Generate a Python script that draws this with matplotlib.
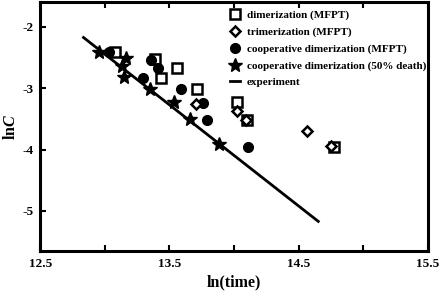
import matplotlib
matplotlib.use("Agg")
import matplotlib.pyplot as plt
from matplotlib.ticker import MultipleLocator, FuncFormatter

plt.rcParams['font.family'] = ['Liberation Serif', 'DejaVu Serif']
plt.rcParams['font.weight'] = 'bold'
plt.rcParams['mathtext.fontset'] = 'custom'
plt.rcParams['mathtext.it'] = 'Liberation Serif:italic:bold'
plt.rcParams['mathtext.rm'] = 'Liberation Serif:bold'

# dimerization (MFPT)
dim_x = [13.08, 13.389, 13.562, 13.438, 13.714, 14.026, 14.098, 14.776]
dim_y = [-2.41, -2.53, -2.667, -2.84, -3.01, -3.23, -3.52, -3.95]
# trimerization (MFPT)
tri_x = [13.706, 14.026, 14.09, 14.562, 14.75]
tri_y = [-3.257, -3.37, -3.52, -3.70, -3.935]
# cooperative dimerization (MFPT)
coop_x = [13.034, 13.361, 13.412, 13.294, 13.590, 13.763, 13.794, 14.111]
coop_y = [-2.41, -2.54, -2.667, -2.835, -3.01, -3.236, -3.52, -3.95]
# cooperative dimerization (50% death)
death_x = [12.956, 13.16, 13.131, 13.152, 13.35, 13.534, 13.657, 13.884]
death_y = [-2.41, -2.50, -2.634, -2.824, -3.02, -3.22, -3.496, -3.913]
# experiment fit line
exp_x = [12.835, 14.652]
exp_y = [-2.173, -5.171]

fig = plt.figure(figsize=(4.42, 2.94), dpi=100)
ax = fig.add_axes([0.091, 0.147, 0.877, 0.845])

ax.plot(exp_x, exp_y, color='black', lw=2, label='experiment', zorder=2)
ax.plot(dim_x, dim_y, 's', ms=6.5, mfc='white', mec='black', mew=1.8,
        ls='none', label='dimerization (MFPT)', zorder=3)
ax.plot(tri_x, tri_y, 'D', ms=5.5, mfc='white', mec='black', mew=1.8,
        ls='none', label='trimerization (MFPT)', zorder=4)
ax.plot(coop_x, coop_y, 'o', ms=7, color='black',
        ls='none', label='cooperative dimerization (MFPT)', zorder=3)
ax.plot(death_x, death_y, '*', ms=10.5, color='black',
        ls='none', label='cooperative dimerization (50% death)', zorder=3)

ax.set_xlim(12.5, 15.5)
ax.set_ylim(-5.65, -1.6)
ax.xaxis.set_major_locator(MultipleLocator(0.5))
ax.yaxis.set_major_locator(MultipleLocator(1))
ax.xaxis.set_major_formatter(FuncFormatter(
    lambda v, p: f'{v:.1f}' if abs((v - 12.5) % 1) < 1e-6 else ''))
ax.yaxis.set_major_formatter(FuncFormatter(lambda v, p: f'{v:.0f}'))
ax.tick_params(direction='in', top=True, length=4, width=1.5,
               labelsize=9.5, pad=5)

for s in ax.spines.values():
    s.set_linewidth(2.2)

ax.set_xlabel('ln(time)', fontsize=11.5, fontweight='bold', labelpad=3)
ax.set_ylabel(r'ln$\mathit{C}$', fontsize=11.5, fontweight='bold', labelpad=2)

h, l = ax.get_legend_handles_labels()
order = [1, 2, 3, 4, 0]
ax.legend([h[i] for i in order], [l[i] for i in order], loc='upper right',
          bbox_to_anchor=(1.022, 1.01), frameon=False,
          handlelength=0.9, handletextpad=0.6, labelspacing=0.62,
          prop={'weight': 'bold', 'size': 8})

fig.savefig('out.png', dpi=100)
